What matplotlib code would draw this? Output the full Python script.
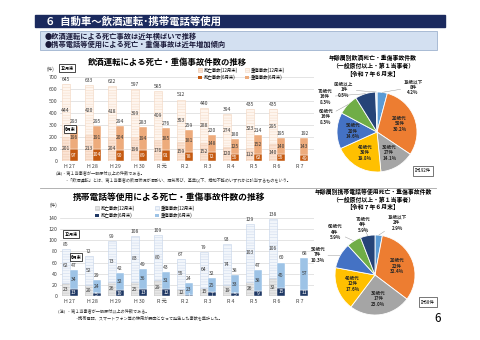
import numpy as np
import matplotlib.pyplot as plt
from matplotlib.patches import Rectangle, Patch

plt.rcParams['font.family'] = ['Noto Sans CJK JP', 'DejaVu Sans']
plt.rcParams['hatch.linewidth'] = 0.3

W, H = 480, 340

years = ['H 27', 'H 28', 'H 29', 'H 30', 'R 元', 'R 2', 'R 3', 'R 4', 'R 5', 'R 6', 'R 7']

# 飲酒運転（12月末はR6まで）
dui_fatal_dec = [201, 213, 204, 198, 176, 159, 152, 120, 112, 140]
dui_serious_dec = [444, 420, 418, 399, 409, 353, 288, 274, 323, 295]
dui_fatal_jun = [97, 104, 90, 89, 91, 78, 72, 55, 62, 55, 49]
dui_serious_jun = [196, 191, 204, 194, 185, 181, 148, 125, 152, 140, 143]

# 携帯電話等使用
mob_fatal_dec = [23, 20, 26, 25, 29, 12, 15, 19, 26, 32]
mob_serious_dec = [62, 52, 73, 83, 80, 55, 64, 74, 103, 106]
mob_fatal_jun = [13, 5, 10, 13, 12, 1, 7, 5, 9, 15, 11]
mob_serious_jun = [34, 24, 32, 36, 31, 23, 25, 33, 38, 45, 57]

ages = ['19歳以下', '20歳代', '30歳代', '40歳代', '50歳代', '60歳代', '70歳代', '80歳以上']
dui_ages = [8, 58, 27, 38, 28, 16, 16, 1]
dui_pct = [4.2, 30.2, 14.1, 19.8, 14.6, 8.3, 8.3, 0.5]
mob_ages = [2, 22, 17, 12, 7, 4, 4]
mob_pct = [2.9, 32.4, 25.0, 17.6, 10.3, 5.9, 5.9]

pie_colors = ['#5B9BD5', '#ED7D31', '#A5A5A5', '#FFC000', '#4472C4',
              '#70AD47', '#264478', '#BDD7EE']

fig = plt.figure(figsize=(4.8, 3.4), dpi=100)


def fx(x):
    return x / W


def fy(y):
    return 1 - y / H


def axes_px(left, top, right, bottom):
    return fig.add_axes([fx(left), fy(bottom), (right - left) / W, (bottom - top) / H])


def ftext(x, y, s, **kw):
    kw.setdefault('ha', 'left')
    kw.setdefault('va', 'center')
    return fig.text(fx(x), fy(y), s, **kw)


# ヘッダー
fig.patches.append(Rectangle((fx(35), fy(27)), fx(445) - fx(35), fy(15) - fy(27),
                             transform=fig.transFigure, color='#1B2A5E', zorder=0))
ftext(45, 21, '６  自動車～飲酒運転･携帯電話等使用', color='white',
      fontsize=7.5, fontweight='bold')
fig.patches.append(Rectangle((fx(40), fy(50)), fx(437) - fx(40), fy(31) - fy(50),
                             transform=fig.transFigure, facecolor='#D3E0F1',
                             edgecolor='#8FA7C7', lw=0.5, zorder=0))
ftext(45, 36.5, '●飲酒運転による死亡事故は近年横ばいで推移', fontsize=5.2,
      color='#1A1A3A', fontweight='bold')
ftext(45, 44.5, '●携帯電話等使用による死亡・重傷事故は近年増加傾向', fontsize=5.2,
      color='#1A1A3A', fontweight='bold')


def bar_chart(ax, dec_f, dec_s, jun_f, jun_s, ymax, step, cols):
    c_df, e_df, c_ds, e_ds, c_jf, c_js = cols
    x = np.arange(len(years))
    xd = x[:len(dec_f)]
    w = 0.35
    dec_tot = np.add(dec_f, dec_s)
    jun_tot = np.add(jun_f, jun_s)
    ax.bar(xd - w / 2, dec_f, w, color=c_df, edgecolor=e_df, hatch='------', lw=0.4, zorder=2)
    ax.bar(xd - w / 2, dec_s, w, bottom=dec_f, color=c_ds, edgecolor=e_ds, hatch='------',
           lw=0.4, zorder=2)
    ax.bar(x + w / 2, jun_f, w, color=c_jf, edgecolor='white', lw=0.3, zorder=2)
    ax.bar(x + w / 2, jun_s, w, bottom=jun_f, color=c_js, edgecolor='white', lw=0.3, zorder=2)
    lab = dict(fontsize=3.6, ha='center', va='center', color='#3A3A3A', zorder=3)
    for i in range(len(xd)):
        ax.text(xd[i] - w / 2, dec_f[i] / 2, dec_f[i], **lab)
        ax.text(xd[i] - w / 2, dec_f[i] + dec_s[i] / 2, dec_s[i], **lab)
        ax.annotate(dec_tot[i], (xd[i] - w / 2, dec_tot[i]), xytext=(0, 1.5),
                    textcoords='offset points', fontsize=3.6, ha='center', va='bottom',
                    color='#3A3A3A')
    for i in range(len(x)):
        ax.text(x[i] + w / 2, jun_f[i] / 2, jun_f[i], **{**lab, 'color': 'white'})
        ax.text(x[i] + w / 2, jun_f[i] + jun_s[i] / 2, jun_s[i], **lab)
        ax.annotate(jun_tot[i], (x[i] + w / 2, jun_tot[i]), xytext=(0, 1.5),
                    textcoords='offset points', fontsize=3.6, ha='center', va='bottom',
                    color='#3A3A3A')
    ax.set_xlim(-0.42, 10.6)
    ax.set_ylim(0, ymax)
    ax.set_yticks(np.arange(0, ymax + 1, step))
    ax.set_xticks(x)
    ax.set_xticklabels(years)
    ax.tick_params(length=0, labelsize=3.8, labelcolor='#404040', pad=2)
    ax.grid(axis='y', color='#D9D9D9', lw=0.5, zorder=0)
    for s in ax.spines.values():
        s.set_visible(False)
    handles = [Patch(facecolor=c_df, edgecolor=e_df, hatch='------', lw=0.4),
               Patch(facecolor=c_jf),
               Patch(facecolor=c_ds, edgecolor=e_ds, hatch='------', lw=0.4),
               Patch(facecolor=c_js)]
    names = ['死亡事故(12月末)', '死亡事故(6月末)', '重傷事故(12月末)', '重傷事故(6月末)']
    return handles, names


def box_label(x, y, s):
    ftext(x, y, s, fontsize=3, fontweight='bold', ha='center',
          bbox=dict(boxstyle='square,pad=0.25', facecolor='white', edgecolor='black', lw=0.5))


# 飲酒運転の推移
ax1 = axes_px(60, 77, 314, 161)
h, n = bar_chart(ax1, dui_fatal_dec, dui_serious_dec, dui_fatal_jun, dui_serious_jun, 700, 100,
                 ['#FBE3D3', '#EBC3A6', '#FEF5EE', '#F3D6C0', '#C55A11', '#EDAB7C'])
fig.legend(h, n, loc='upper left', bbox_to_anchor=(fx(196), fy(65)), ncol=2, fontsize=3.2,
           frameon=False, handlelength=0.9, handleheight=0.9, columnspacing=1.6,
           labelspacing=0.45, handletextpad=0.4, borderpad=0)
ftext(167, 62, '飲酒運転による死亡・重傷事故件数の推移', fontsize=6, fontweight='bold', ha='center')
ftext(47, 69, '(件)', fontsize=3.4, color='#404040')
box_label(67, 68, '12月末')
box_label(70, 129, '6月末')
ftext(56, 173, '(注)・第１当事者が一般原付以上の件数である。', fontsize=3, color='#333333')
ftext(64, 179.5, '・「飲酒運転」とは、第１当事者の飲酒状況が酒酔い、酒気帯び、基準以下、検知不能のいずれかに該当するものをいう。',
      fontsize=3, color='#333333')

fig.add_artist(plt.Line2D([fx(40), fx(436)], [fy(188), fy(188)], color='#A6A6A6', lw=0.6))

# 携帯電話等使用の推移
ax2 = axes_px(60, 218, 314, 296)
h, n = bar_chart(ax2, mob_fatal_dec, mob_serious_dec, mob_fatal_jun, mob_serious_jun, 140, 20,
                 ['#E6E6E6', '#BFBFBF', '#F2F6FB', '#C5D4EA', '#1F3864', '#9DC3E6'])
fig.legend(h, n, loc='upper left', bbox_to_anchor=(fx(93), fy(203)), ncol=2, fontsize=3.2,
           frameon=False, handlelength=0.9, handleheight=0.9, columnspacing=4.5,
           labelspacing=0.45, handletextpad=0.4, borderpad=0)
ftext(169, 197, '携帯電話等使用による死亡・重傷事故件数の推移', fontsize=6.3, fontweight='bold',
      ha='center')
ftext(50, 205, '(件)', fontsize=3.4, color='#404040')
box_label(71, 234, '12月末')
box_label(76, 257, '6月末')
ftext(58, 311, '(注)  ・第１当事者が一般原付以上の件数である。', fontsize=3, color='#333333')
ftext(74, 317.5, '・携帯電話、スマートフォン等の使用が要因となって発生した事故を集計した。',
      fontsize=3, color='#333333')


def pie_chart(cx, cy, counts, pct, out_pos):
    half = 64
    ax = axes_px(cx - half, cy - half, cx + half, cy + half)
    wedges, _ = ax.pie(counts, colors=pie_colors[:len(counts)], startangle=90,
                       counterclock=False, radius=1,
                       wedgeprops=dict(edgecolor='white', linewidth=0.6))
    ax.set_xlim(-1.6, 1.6)
    ax.set_ylim(-1.6, 1.6)
    ax.set_aspect('equal')
    st = dict(fontsize=3.3, fontweight='bold', ha='center', va='center', linespacing=1.15,
              color='#262626')
    for i, wd in enumerate(wedges):
        ang = np.deg2rad((wd.theta1 + wd.theta2) / 2)
        label = f'{ages[i]}\n{counts[i]}件\n{pct[i]:.1f}%'
        if i in out_pos:
            ax.annotate(label, xy=(np.cos(ang), np.sin(ang)), xytext=out_pos[i],
                        arrowprops=dict(arrowstyle='-', color='#8C8C8C', lw=0.3,
                                        shrinkA=0, shrinkB=0),
                        annotation_clip=False, **st)
        else:
            ax.text(0.6 * np.cos(ang), 0.6 * np.sin(ang), label, **st)
    return ax


pie_chart(377, 132, dui_ages, dui_pct,
          {0: (0.9, 1.12), 5: (-1.28, 0.38), 6: (-1.3, 0.88), 7: (-0.83, 1.06)})
ftext(373, 58, '年齢層別飲酒死亡・重傷事故件数', fontsize=4.2, fontweight='bold', ha='center')
ftext(373, 66, '（一般原付以上・第１当事者）', fontsize=4.2, fontweight='bold', ha='center')
ftext(373, 74, '【令和７年６月末】', fontsize=4.2, fontweight='bold', ha='center')
ftext(423, 171, f'計{sum(dui_ages)}件', fontsize=3.2, ha='center',
      bbox=dict(boxstyle='square,pad=0.5', facecolor='white', edgecolor='#404040', lw=0.5))

pie_chart(375, 275, mob_ages, mob_pct,
          {0: (0.55, 1.3), 4: (-1.43, 0.5), 5: (-1.0, 1.07), 6: (-0.3, 1.25)})
ftext(373, 192, '年齢層別携帯電話等使用死亡・重傷事故件数', fontsize=4.2, fontweight='bold',
      ha='center')
ftext(373, 199.5, '（一般原付以上・第１当事者）', fontsize=4.2, fontweight='bold', ha='center')
ftext(373, 206.5, '【令和７年６月末】', fontsize=4.2, fontweight='bold', ha='center')
ftext(428, 302, f'計{sum(mob_ages)}件', fontsize=3.2, ha='center',
      bbox=dict(boxstyle='square,pad=0.5', facecolor='white', edgecolor='#404040', lw=0.5))

ftext(438, 318, '6', fontsize=8.5, ha='center')

fig.savefig('out.png', dpi=100)
